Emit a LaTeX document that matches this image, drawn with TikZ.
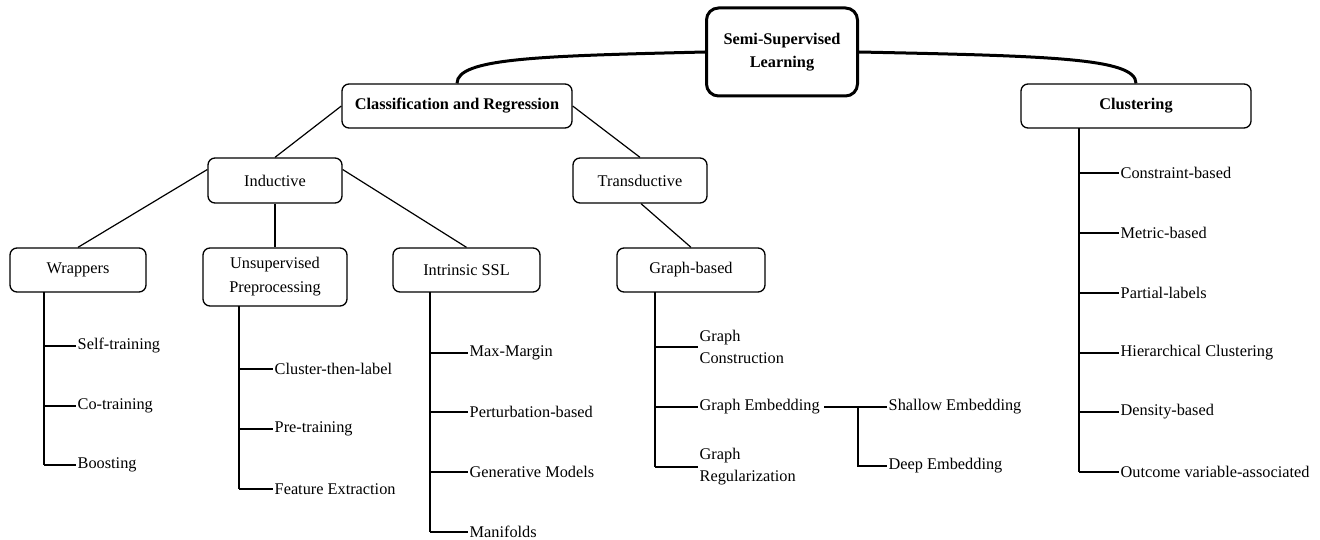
\documentclass[tikz,border=0pt]{standalone}
\usepackage{fontspec}
\setmainfont{Liberation Serif}
\begin{document}
\begin{tikzpicture}[x=1pt,y=-1pt,
  font=\rmfamily\fontsize{16.3}{22}\selectfont,
  box/.style={draw,rounded corners=7pt,line width=1.3pt,align=center,inner sep=0pt},
  leaf/.style={anchor=west,inner sep=1.5pt,align=left},
  trunk/.style={line width=2pt},
  branch/.style={line width=1.2pt},
  link/.style={line width=1.2pt},
  curve/.style={line width=3pt}]
\useasboundingbox (0,0) rectangle (1320,540);
% main boxes
\node[box,line width=3pt,rounded corners=12pt,minimum width=151pt,minimum height=88pt,font=\rmfamily\fontsize{16.3}{23}\selectfont\bfseries] (ssl) at (782,52) {Semi-Supervised\\Learning};
\node[box,minimum width=230pt,minimum height=44pt,font=\rmfamily\fontsize{16.3}{22}\selectfont\bfseries] (cr) at (457,106) {Classification and Regression};
\node[box,minimum width=230pt,minimum height=44pt,font=\rmfamily\fontsize{16.3}{22}\selectfont\bfseries] (cl) at (1136,106) {Clustering};
\node[box,minimum width=134pt,minimum height=45pt] (ind) at (275,180.5) {Inductive};
\node[box,minimum width=134pt,minimum height=45pt] (tra) at (640,180.5) {Transductive};
\node[box,minimum width=136pt,minimum height=44pt] (wr) at (78,270) {Wrappers};
\node[box,minimum width=144pt,minimum height=58pt,font=\rmfamily\fontsize{16.3}{24}\selectfont] (up) at (275,277) {Unsupervised\\Preprocessing};
\node[box,minimum width=147pt,minimum height=44pt] (is) at (466.5,270) {Intrinsic SSL};
\node[box,minimum width=148pt,minimum height=44pt] (gb) at (691,270) {Graph-based};
% curves
\draw[curve] (ssl.west) .. controls (540,56) and (457,58) .. (cr.north);
\draw[curve] (ssl.east) .. controls (1050,56) and (1136,58) .. (cl.north);
% links
\draw[link] (cr.west) -- (ind.north);
\draw[link] (cr.east) -- (tra.north);
\draw[link] ([yshift=11pt]ind.west) -- (wr.north);
\draw[link] (ind.south) -- (up.north);
\draw[link] ([yshift=11pt]ind.east) -- (is.north);
\draw[link] ([xshift=1pt]tra.south) -- (gb.north);
% leaves
\node[leaf] (st) at (76,346) {Self-training};
\node[leaf] (ct) at (76,406) {Co-training};
\node[leaf] (bo) at (76,465) {Boosting};
\node[leaf] (ctl) at (273,369) {Cluster-then-label};
\node[leaf] (pt) at (273,429) {Pre-training};
\node[leaf] (fe) at (273,489) {Feature Extraction};
\node[leaf] (mm) at (468,353) {Max-Margin};
\node[leaf] (pb) at (468,412) {Perturbation-based};
\node[leaf] (gm) at (468,472) {Generative Models};
\node[leaf] (mf) at (468,532) {Manifolds};
\node[leaf] (gc) at (698,347) {Graph\\Construction};
\node[leaf] (ge) at (698,407) {Graph Embedding};
\node[leaf] (gr) at (698,467) {Graph\\Regularization};
\node[leaf] (se) at (887,407) {Shallow Embedding};
\node[leaf] (de) at (887,466) {Deep Embedding};
\node[leaf] (c1) at (1119,173) {Constraint-based};
\node[leaf] (c2) at (1119,233) {Metric-based};
\node[leaf] (c3) at (1119,293) {Partial-labels};
\node[leaf] (c4) at (1119,353) {Hierarchical Clustering};
\node[leaf] (c5) at (1119,412) {Density-based};
\node[leaf] (c6) at (1119,472) {Outcome variable-associated};
% trunk coordinates
\coordinate (wt) at (44,292);
\coordinate (ut) at (239,306);
\coordinate (it) at (430,292);
\coordinate (gt) at (655,292);
\coordinate (ct0) at (1079,128);
\coordinate (ej) at (858,407);
% trunks and branches
\draw[trunk] (wt) -- (wt |- bo.west);
\foreach \n in {st,ct,bo} \draw[branch] (wt |- \n.west) -- (\n.west);
\draw[trunk] (ut) -- (ut |- fe.west);
\foreach \n in {ctl,pt,fe} \draw[branch] (ut |- \n.west) -- (\n.west);
\draw[trunk] (it) -- (it |- mf.west);
\foreach \n in {mm,pb,gm,mf} \draw[branch] (it |- \n.west) -- (\n.west);
\draw[trunk] (gt) -- (gt |- gr.west);
\foreach \n in {gc,ge,gr} \draw[branch] (gt |- \n.west) -- (\n.west);
\draw[trunk] (ct0) -- (ct0 |- c6.west);
\foreach \n in {c1,c2,c3,c4,c5,c6} \draw[branch] (ct0 |- \n.west) -- (\n.west);
% embedding sub-branch
\draw[line width=2pt] ([xshift=3pt]ge.east) -- (ej);
\draw[branch] (ej) -- (se.west);
\draw[branch] (ej) |- (de.west);
\end{tikzpicture}
\end{document}
